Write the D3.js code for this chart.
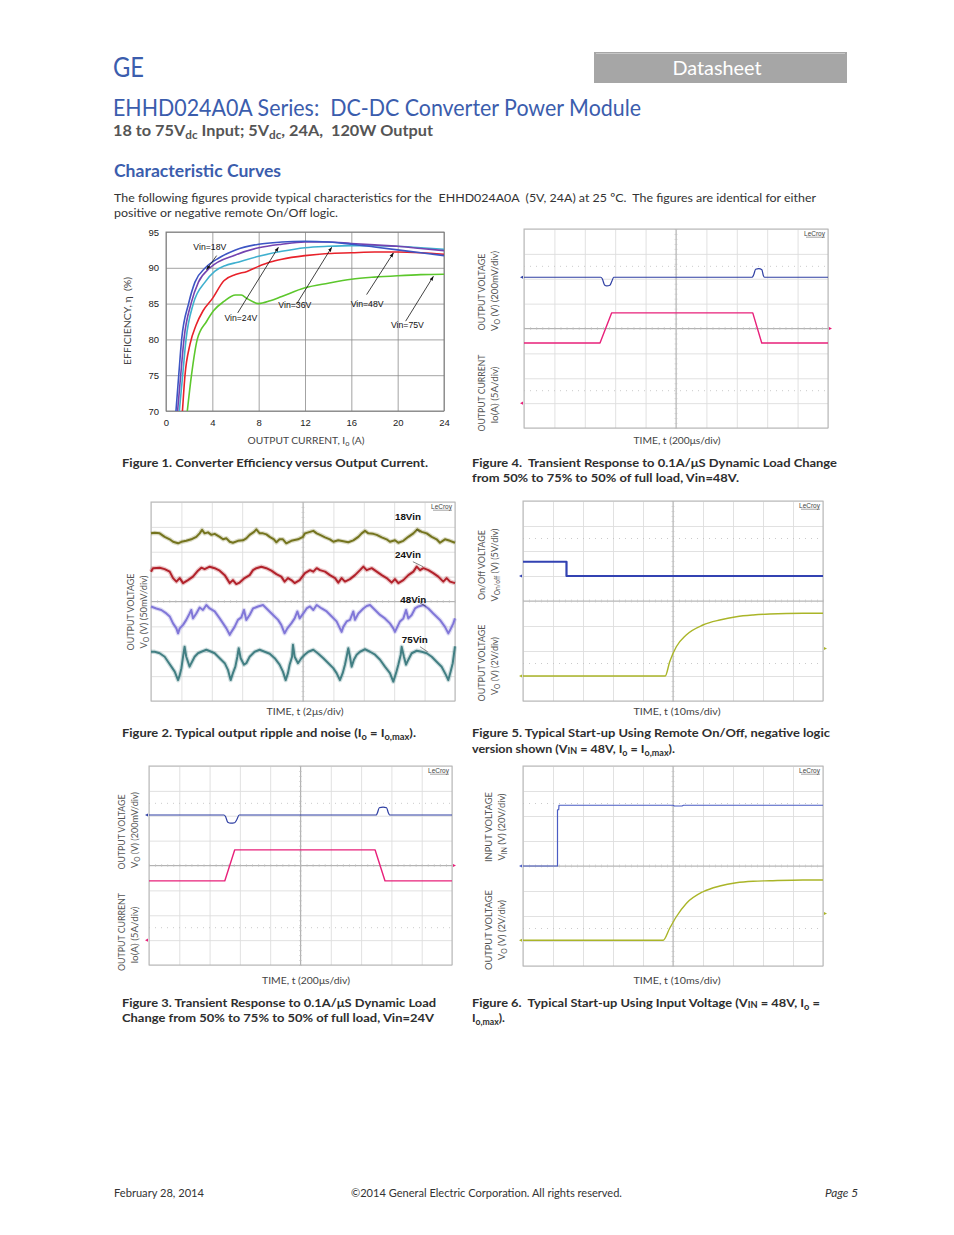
<!DOCTYPE html>
<html><head><meta charset="utf-8">
<script src="https://cdn.jsdelivr.net/npm/d3@7"></script>
<style>body{margin:0;background:#fff} svg{display:block} text{white-space:pre}</style>
</head><body>
<script>
// ================= DATA =================
// Figure 1 : efficiency (%) vs output current (A)
const effTicksX = [0,4,8,12,16,20,24];
const effTicksY = [70,75,80,85,90,95];
const eff18 = [[0.86,70],[1.1,75],[1.35,80],[1.95,85],[2.5,88],[3.4,90],[4.6,91.4],[6,92.5],[8,93.3],[10,93.6],[12,93.7],[14,93.6],[16,93.3],[18,92.9],[20,92.5],[22,92.1],[24,91.7]];
const eff24 = [[1.0,70],[1.27,75],[1.55,80],[2.16,85],[2.8,88],[3.8,90],[6,91.8],[8,92.8],[10,93.3],[12,93.6],[14,93.6],[16,93.4],[18,93.2],[20,93.0],[22,92.7],[24,92.4]];
const eff36 = [[1.15,70],[1.44,75],[1.73,80],[2.36,85],[3.37,88],[4.2,89.5],[5.1,90.3],[6,90.7],[8,91.6],[10,92.3],[12,92.8],[14,93.0],[16,93.1],[18,93.1],[20,93.0],[22,92.8],[24,92.6]];
const eff48 = [[1.42,70],[1.64,75],[2.07,79.3],[2.6,82],[3.2,84],[4,85.7],[5,88.2],[6,89.05],[7,89.5],[8,90.2],[9,90.8],[10,91.2],[12,91.7],[14,92.0],[16,92.1],[18,92.2],[20,92.2],[22,92.1],[24,91.9]];
const eff75 = [[1.84,70],[2.2,75],[2.7,80],[3.5,82.5],[4.1,84],[5,85.3],[6,86.2],[6.5,86.2],[7,85.7],[8,85.0],[9,85.4],[10,86.0],[12,87.2],[14,87.85],[16,88.4],[18,88.7],[20,88.9],[22,89.05],[24,89.1]];
const effSeriesNames = ['Vin=18V','Vin=24V','Vin=36V','Vin=48V','Vin=75V'];
const effLabelPos = [[2.36,92.86],[5.04,83.0],[9.7,84.8],[15.94,84.96],[19.42,82.0]];
const effArrowFrom = [[4.37,91.7],[6.19,83.7],[11.28,84.96],[17.32,86.26],[20.69,82.55]];
const effArrowTo = [[3.51,89.75],[9.7,92.86],[14.3,92.86],[19.63,92.07],[23.08,88.8]];

// Figure 2 : output ripple, time (us) vs mV (50 mV/div, centre = 0)
const ripple18 = [[0,137],[0.24,138],[0.57,137],[0.9,130],[1.23,125],[1.45,120],[1.78,117],[2.0,120],[2.32,122],[2.65,125],[2.98,130],[3.2,137],[3.36,144],[3.53,137],[3.75,139],[3.97,134],[4.19,136],[4.52,130],[4.74,125],[4.96,127],[5.18,120],[5.39,118],[5.72,122],[6.05,123],[6.27,127],[6.49,134],[6.78,140],[6.93,145],[7.15,137],[7.37,137],[7.59,135],[7.81,130],[8.09,125],[8.25,119],[8.46,125],[8.68,125],[8.9,117],[9.23,122],[9.67,125],[10.0,130],[10.13,137],[10.46,140],[10.68,142],[10.9,137],[11.12,134],[11.45,129],[11.77,125],[12.0,120],[12.32,123],[12.65,121],[12.98,119],[13.31,123],[13.64,130],[13.86,137],[14.08,142],[14.3,137],[14.63,136],[14.85,134],[15.18,129],[15.5,125],[15.72,120],[16.05,123],[16.27,118],[16.6,122],[16.93,130],[17.26,137],[17.52,145],[17.81,140],[18.14,137],[18.47,130],[18.79,125],[19.01,118],[19.34,125],[19.67,122],[20.0,118]];
const ripple24 = [[0,60],[0.13,67],[0.57,68],[0.9,65],[1.23,60],[1.45,47],[1.67,40],[1.89,47],[2.11,37],[2.43,43],[2.76,50],[3.09,62],[3.31,68],[3.53,65],[3.86,70],[4.19,67],[4.52,62],[4.85,53],[5.18,37],[5.39,43],[5.61,35],[5.83,38],[6.16,47],[6.49,53],[6.71,63],[6.93,67],[7.26,70],[7.59,67],[7.92,62],[8.25,55],[8.57,50],[8.79,40],[9.01,47],[9.23,43],[9.45,37],[9.78,43],[10.13,57],[10.46,63],[10.68,60],[10.9,67],[11.12,63],[11.45,60],[11.77,53],[12.11,47],[12.32,38],[12.54,47],[12.76,40],[13.09,45],[13.42,53],[13.75,63],[13.97,70],[14.19,63],[14.52,67],[14.85,60],[15.18,53],[15.5,47],[15.83,38],[16.05,45],[16.27,37],[16.6,43],[16.93,53],[17.26,60],[17.48,70],[17.7,63],[17.92,67],[18.25,63],[18.57,57],[18.9,50],[19.23,40],[19.45,47],[19.67,40],[20.0,37]];
const ripple48 = [[0,-10],[0.35,-14],[0.68,-17],[1.01,-24],[1.23,-30],[1.45,-44],[1.67,-54],[1.78,-64],[1.89,-54],[2.11,-47],[2.32,-37],[2.54,-24],[2.65,-17],[2.76,-34],[2.98,-24],[3.2,-12],[3.42,-17],[3.64,-7],[3.86,-14],[4.19,-20],[4.52,-34],[4.74,-44],[4.96,-54],[5.18,-67],[5.29,-61],[5.5,-51],[5.72,-37],[5.94,-32],[6.12,-17],[6.27,-37],[6.49,-27],[6.71,-14],[7.04,-10],[7.37,-7],[7.7,-17],[8.03,-27],[8.36,-37],[8.57,-47],[8.79,-64],[8.97,-54],[9.23,-44],[9.45,-34],[9.63,-20],[9.78,-34],[10.02,-24],[10.24,-14],[10.46,-10],[10.68,-17],[10.9,-7],[11.23,-14],[11.56,-20],[11.89,-30],[12.21,-40],[12.43,-54],[12.54,-61],[12.65,-51],[12.87,-40],[13.09,-37],[13.31,-20],[13.42,-37],[13.64,-24],[13.97,-14],[14.19,-9],[14.41,-7],[14.74,-17],[15.07,-27],[15.39,-34],[15.72,-44],[15.94,-54],[16.05,-61],[16.16,-54],[16.38,-40],[16.6,-34],[16.78,-17],[16.93,-34],[17.15,-27],[17.37,-14],[17.59,-10],[17.92,-7],[18.25,-14],[18.57,-24],[19.01,-37],[19.34,-51],[19.56,-64],[19.67,-58],[19.89,-44],[20.0,-34]];
const ripple75 = [[0,-101],[0.24,-101],[0.57,-104],[0.9,-111],[1.12,-121],[1.34,-131],[1.56,-141],[1.78,-158],[1.89,-148],[2.0,-134],[2.11,-111],[2.21,-91],[2.32,-111],[2.54,-131],[2.65,-124],[2.87,-111],[3.09,-104],[3.31,-101],[3.64,-97],[3.97,-101],[4.19,-104],[4.52,-114],[4.85,-124],[5.07,-138],[5.24,-158],[5.39,-144],[5.55,-131],[5.68,-111],[5.77,-94],[5.9,-114],[6.12,-127],[6.27,-124],[6.49,-111],[6.82,-101],[7.15,-97],[7.48,-101],[7.81,-105],[8.14,-114],[8.46,-127],[8.68,-141],[8.86,-158],[9.01,-144],[9.12,-127],[9.28,-111],[9.34,-87],[9.45,-111],[9.67,-124],[9.89,-114],[10.11,-107],[10.35,-101],[10.68,-97],[11.01,-105],[11.34,-114],[11.67,-124],[11.99,-134],[12.21,-144],[12.43,-158],[12.61,-144],[12.76,-127],[12.87,-111],[12.98,-94],[13.09,-111],[13.2,-131],[13.35,-117],[13.53,-107],[13.75,-101],[14.08,-96],[14.41,-101],[14.74,-107],[15.07,-117],[15.39,-131],[15.72,-144],[15.94,-161],[16.12,-144],[16.27,-127],[16.43,-107],[16.49,-91],[16.64,-111],[16.78,-127],[16.93,-117],[17.15,-104],[17.48,-99],[17.81,-101],[18.14,-104],[18.47,-111],[18.79,-121],[19.12,-131],[19.41,-148],[19.56,-158],[19.71,-141],[19.85,-124],[20.0,-90]];
const rippleNames = ['18Vin','24Vin','48Vin','75Vin'];
const rippleLabelPos = [[16.05,171],[16.05,95],[16.4,5],[16.5,-75]];
const rippleLeaderFrom = [[17.45,145],[17.23,80],[17.7,-3],[17.7,-91]];
const rippleLeaderTo = [[17.7,139],[17.9,70],[18.1,-10],[18.2,-101]];

// Figure 3 : transient, Vin=24V, time (us) vs divisions
const tr24Vo = [[0,2.03],[495,2.03],[505,1.97],[520,1.74],[540,1.70],[565,1.72],[580,1.85],[595,2.03],[1500,2.03],[1508,2.12],[1520,2.32],[1545,2.35],[1568,2.32],[1580,2.12],[1590,2.03],[2000,2.03]];
const tr24Io = [[0,-0.62],[500,-0.62],[566,0.63],[1492,0.63],[1558,-0.62],[2000,-0.62]];
// Figure 4 : transient, Vin=48V
const tr48Vo = [[0,2.06],[505,2.06],[515,2.0],[530,1.75],[545,1.71],[565,1.74],[578,1.9],[590,2.06],[1500,2.06],[1510,2.14],[1524,2.38],[1545,2.41],[1565,2.36],[1574,2.14],[1582,2.06],[2000,2.06]];
const tr48Io = [[0,-0.58],[500,-0.58],[577,0.63],[1505,0.63],[1564,-0.58],[2000,-0.58]];
// Figure 5 : start-up with remote on/off, time (ms) vs divisions
const su5OnOff = [[0,1.57],[14.5,1.57],[14.5,1.0],[100,1.0]];
const su5Vo = [[0,-3.0],[47.4,-3.0],[48.9,-2.43],[51.1,-1.83],[54.4,-1.36],[60,-0.96],[65.6,-0.76],[71.1,-0.63],[76.7,-0.56],[82.2,-0.52],[93.3,-0.49],[100,-0.49]];
// Figure 6 : start-up with input voltage
const su6Vin = [[0,0],[11.5,0],[11.5,2.25],[11.9,2.25],[12.0,2.43],[50,2.43],[50.5,2.40],[53,2.40],[53.5,2.43],[100,2.43]];
const su6Vo = [[0,-2.97],[46.7,-2.97],[48.9,-2.49],[51.1,-2.03],[54.5,-1.49],[60,-1.03],[65.6,-0.8],[71.1,-0.67],[76.7,-0.61],[82.2,-0.59],[93.3,-0.56],[100,-0.56]];

// ================= DRAWING =================
const FONT = 'Lato, "Open Sans", sans-serif';
const ARIAL = '"Liberation Sans", Arial, sans-serif';
const BLUE = '#3b5dad';
const svg = d3.select('body').append('svg').attr('width',954).attr('height',1235);
svg.append('rect').attr('width',954).attr('height',1235).attr('fill','#fff');
const defs = svg.append('defs');
defs.append('marker').attr('id','ah').attr('viewBox','0 0 10 10').attr('refX',9).attr('refY',5)
  .attr('markerWidth',6).attr('markerHeight',6).attr('orient','auto')
  .append('path').attr('d','M0,1.5L10,5L0,8.5Z').attr('fill','#111');

function T(parent, x, y, parts, o = {}) {
  const t = parent.append('text').attr('x', x).attr('y', y)
    .attr('font-family', o.family || FONT).attr('font-size', o.size || 12)
    .attr('fill', o.fill || '#333').attr('font-weight', o.weight || 400)
    .attr('text-anchor', o.anchor || 'start');
  if (o.italic) t.attr('font-style', 'italic');
  if (o.len) t.attr('textLength', o.len).attr('lengthAdjust', 'spacingAndGlyphs');
  if (o.rotate) t.attr('transform', `rotate(${o.rotate},${x},${y})`);
  if (o.baseline) t.attr('dominant-baseline', o.baseline);
  if (typeof parts === 'string') parts = [parts];
  const sh = (o.size || 12) * 0.22;
  let cur = 0;
  parts.forEach(p => {
    const isSub = typeof p !== 'string';
    const target = isSub ? (p.nb ? sh * 0.3 : sh) : 0;
    const ts = t.append('tspan').text(isSub ? p.s : p).attr('dy', target - cur);
    if (isSub) ts.attr('font-size', (o.size || 12) * 0.72);
    cur = target;
  });
  return t;
}

// ---------- header ----------
T(svg, 113, 77, 'GE', {size: 26, fill: BLUE, len: 31});
svg.append('rect').attr('x',594).attr('y',52).attr('width',253).attr('height',31).attr('fill','#a6a6a6');
svg.append('line').attr('x1',596).attr('x2',845).attr('y1',53.5).attr('y2',53.5).attr('stroke','#cfcfcf').attr('stroke-width',0.8);
T(svg, 717, 75, 'Datasheet', {size: 20, fill: '#fff', anchor: 'middle', len: 89});
T(svg, 113, 116, 'EHHD024A0A Series:  DC-DC Converter Power Module', {size: 23, fill: BLUE, len: 528});
T(svg, 113, 136, ['18 to 75V', {s:'dc'}, ' Input; 5V', {s:'dc'}, ', 24A,  120W Output'], {size: 15.5, fill: '#555', weight: 700, len: 320});
T(svg, 114, 177, 'Characteristic Curves', {size: 16.5, fill: BLUE, weight: 700, len: 167});
T(svg, 114, 202, 'The following figures provide typical characteristics for the  EHHD024A0A  (5V, 24A) at 25 ºC.  The figures are identical for either', {size: 12, fill: '#333', len: 702});
T(svg, 114, 217, 'positive or negative remote On/Off logic.', {size: 12, fill: '#333', len: 224});

// ---------- Figure 1 ----------
(function(){
  const g = svg.append('g');
  const x = d3.scaleLinear().domain([0,24]).range([166,444]);
  const y = d3.scaleLinear().domain([70,95]).range([411,232]);
  g.append('g').attr('transform','translate(0,411)')
    .call(d3.axisBottom(x).tickValues(effTicksX).tickSize(-179).tickPadding(8))
    .call(s => { s.select('.domain').remove(); s.selectAll('line').attr('stroke','#8c8c8c').attr('stroke-width',0.8);
      s.selectAll('text').attr('font-family',ARIAL).attr('font-size',9.5).attr('fill','#222'); });
  g.append('g').attr('transform','translate(166,0)')
    .call(d3.axisLeft(y).tickValues(effTicksY).tickSize(-278).tickPadding(7))
    .call(s => { s.select('.domain').remove(); s.selectAll('line').attr('stroke','#8c8c8c').attr('stroke-width',0.8);
      s.selectAll('text').attr('font-family',ARIAL).attr('font-size',9.5).attr('fill','#222'); });
  g.append('rect').attr('x',166).attr('y',232).attr('width',278).attr('height',179)
    .attr('fill','none').attr('stroke','#7a7a7a').attr('stroke-width',0.9);
  const cols = ['#3d55c4','#7443b0','#3fb0cf','#e8212a','#5cc72c'];
  const series = [eff18, eff24, eff36, eff48, eff75];
  const ln = d3.line().x(d => x(d[0])).y(d => y(d[1])).curve(d3.curveMonotoneX);
  [4,3,2,1,0].forEach(i => g.append('path').attr('d', ln(series[i])).attr('fill','none')
    .attr('stroke', cols[i]).attr('stroke-width', 1.6));
  effSeriesNames.forEach((n,i) => {
    T(g, x(effLabelPos[i][0]), y(effLabelPos[i][1]), n, {family: ARIAL, size: 8.7, fill: '#111', baseline: 'central'});
    g.append('line').attr('x1', x(effArrowFrom[i][0])).attr('y1', y(effArrowFrom[i][1]))
      .attr('x2', x(effArrowTo[i][0])).attr('y2', y(effArrowTo[i][1]))
      .attr('stroke','#111').attr('stroke-width',0.8).attr('marker-end','url(#ah)');
  });
  T(g, 306, 444, 'OUTPUT CURRENT, I', {size: 9.5, fill: '#444', anchor: 'middle'}).call(t => {
    t.append('tspan').text('o').attr('font-size', 7).attr('dy', 1.5);
    t.append('tspan').text(' (A)').attr('dy', -1.5);
    t.attr('textLength', 117).attr('lengthAdjust','spacingAndGlyphs');
  });
  T(g, 131, 321, 'EFFICIENCY, η  (%)', {size: 9.5, fill: '#444', anchor: 'middle', rotate: -90, len: 88});
})();

// ---------- scope helper ----------
function scope(box, xDom, yDom, dotted) {
  const g = svg.append('g');
  const x = d3.scaleLinear().domain(xDom).range([box.x, box.x + box.w]);
  const y = d3.scaleLinear().domain(yDom).range([box.y + box.h, box.y]);
  const xv = d3.range(11).map(i => xDom[0] + i * (xDom[1] - xDom[0]) / 10);
  const yv = d3.range(9).map(i => yDom[0] + i * (yDom[1] - yDom[0]) / 8);
  const xmid = (xDom[0] + xDom[1]) / 2, ymid = (yDom[0] + yDom[1]) / 2;
  g.append('g').attr('transform', `translate(0,${box.y + box.h})`)
    .call(d3.axisBottom(x).tickValues(xv).tickSize(-box.h).tickFormat(''))
    .call(s => { s.select('.domain').remove(); s.selectAll('line').attr('stroke', '#dedede').attr('stroke-width', 0.9); });
  g.append('g').attr('transform', `translate(${box.x},0)`)
    .call(d3.axisLeft(y).tickValues(yv).tickSize(-box.w).tickFormat(''))
    .call(s => { s.select('.domain').remove(); s.selectAll('line').attr('stroke', '#dedede').attr('stroke-width', 0.9); });
  (dotted || []).forEach(v => g.append('line').attr('x1', box.x).attr('x2', box.x + box.w)
    .attr('y1', y(v)).attr('y2', y(v)).attr('stroke', '#c4c4c4').attr('stroke-width', 0.9).attr('stroke-dasharray', '1,5'));
  // centre lines with minor ticks
  g.append('line').attr('x1', box.x).attr('x2', box.x + box.w).attr('y1', y(ymid)).attr('y2', y(ymid)).attr('stroke', '#acacac').attr('stroke-width', 0.9);
  g.append('line').attr('x1', x(xmid)).attr('x2', x(xmid)).attr('y1', box.y).attr('y2', box.y + box.h).attr('stroke', '#acacac').attr('stroke-width', 0.9);
  const xm = d3.range(51).map(i => xDom[0] + i * (xDom[1] - xDom[0]) / 50);
  const ym = d3.range(41).map(i => yDom[0] + i * (yDom[1] - yDom[0]) / 40);
  [d3.axisBottom, d3.axisTop].forEach(a => g.append('g').attr('transform', `translate(0,${y(ymid)})`)
    .call(a(x).tickValues(xm).tickSize(1.5).tickFormat(''))
    .call(s => { s.select('.domain').remove(); s.selectAll('line').attr('stroke', '#c2c2c2').attr('stroke-width', 0.6); }));
  [d3.axisLeft, d3.axisRight].forEach(a => g.append('g').attr('transform', `translate(${x(xmid)},0)`)
    .call(a(y).tickValues(ym).tickSize(1.5).tickFormat(''))
    .call(s => { s.select('.domain').remove(); s.selectAll('line').attr('stroke', '#c2c2c2').attr('stroke-width', 0.6); }));
  g.append('rect').attr('x', box.x).attr('y', box.y).attr('width', box.w).attr('height', box.h)
    .attr('fill', 'none').attr('stroke', '#b5b5b5').attr('stroke-width', 1);
  // LeCroy logo text
  T(g, box.x + box.w - 3, box.y + 7, 'LeCroy', {family: ARIAL, size: 6.5, fill: '#444', anchor: 'end'});
  g.append('line').attr('x1', box.x + box.w - 22).attr('x2', box.x + box.w - 3).attr('y1', box.y + 8.2).attr('y2', box.y + 8.2)
    .attr('stroke', '#444').attr('stroke-width', 0.5);
  const trace = (data, col, w, curve) => g.append('path')
    .attr('d', d3.line().x(d => x(d[0])).y(d => y(d[1])).curve(curve || d3.curveLinear)(data))
    .attr('fill', 'none').attr('stroke', col).attr('stroke-width', w).attr('stroke-linejoin', 'round');
  return {g, x, y, trace, box};
}
function mark(s, side, v, col) {
  const xx = side === 'L' ? s.box.x - 2 : s.box.x + s.box.w + 2;
  const d = side === 'L' ? -1 : 1;
  s.g.append('path').attr('d', `M${xx - d * 1},${s.y(v) - 1.6}L${xx + d * 2},${s.y(v)}L${xx - d * 1},${s.y(v) + 1.6}Z`).attr('fill', col);
}
function vlabel(x, cy, parts, len) {
  T(svg, x, cy, parts, {size: 9.3, fill: '#555', anchor: 'middle', rotate: -90, len});
}

// ---------- Figure 2 ----------
(function(){
  const s = scope({x:151, y:502, w:304, h:199}, [0,20], [-200,200], []);
  const cols = ['#74741e','#b2222b','#8177d8','#427f83'];
  [ripple18, ripple24, ripple48, ripple75].forEach((d,i) => {
    s.trace(d, cols[i], 4.4).attr('opacity', 0.25);
    s.trace(d, cols[i], 2.0);
  });
  rippleNames.forEach((n,i) => {
    T(s.g, s.x(rippleLabelPos[i][0]), s.y(rippleLabelPos[i][1]), n, {family: ARIAL, size: 9.8, weight: 700, fill: '#111', baseline: 'central'});
    s.g.append('line').attr('x1', s.x(rippleLeaderFrom[i][0])).attr('y1', s.y(rippleLeaderFrom[i][1]))
      .attr('x2', s.x(rippleLeaderTo[i][0])).attr('y2', s.y(rippleLeaderTo[i][1])).attr('stroke','#333').attr('stroke-width',0.6);
  });
  vlabel(133.5, 612, 'OUTPUT VOLTAGE', 77);
  vlabel(146.5, 612, ['V', {s:'O'}, ' (V) (50mV/div)'], 73);
  T(svg, 305, 715, 'TIME, t (2μs/div)', {size: 9.5, fill: '#444', anchor: 'middle', len: 77});
})();

// ---------- Figure 3 ----------
(function(){
  const s = scope({x:149, y:766, w:303, h:199}, [0,2000], [-4,4], [2.5,-2.5]);
  s.trace(tr24Io, '#e8207a', 1.4);
  s.trace(tr24Vo, '#2f3fa3', 1.2, d3.curveMonotoneX);
  mark(s, 'L', 2.03, '#2f3fa3'); mark(s, 'R', 0, '#e8207a'); mark(s, 'L', -3, '#e8207a');
  vlabel(124.5, 832, 'OUTPUT VOLTAGE', 75);
  vlabel(137.5, 830, ['V', {s:'O'}, ' (V) (200mV/div)'], 76);
  vlabel(124.5, 932, 'OUTPUT CURRENT', 78);
  vlabel(137.5, 935, 'Io(A) (5A/div)', 57);
  T(svg, 306, 984, 'TIME, t (200μs/div)', {size: 9.5, fill: '#444', anchor: 'middle', len: 88});
})();

// ---------- Figure 4 ----------
(function(){
  const s = scope({x:524, y:229, w:304, h:199}, [0,2000], [-4,4], [2.5,-2.5]);
  s.trace(tr48Io, '#e8207a', 1.4);
  s.trace(tr48Vo, '#2f3fa3', 1.2, d3.curveMonotoneX);
  mark(s, 'L', 2.06, '#2f3fa3'); mark(s, 'R', 0, '#e8207a'); mark(s, 'L', -3, '#e8207a');
  vlabel(484.5, 292, 'OUTPUT VOLTAGE', 77);
  vlabel(497.5, 291, ['V', {s:'O'}, ' (V) (200mV/div)'], 80);
  vlabel(484.5, 393, 'OUTPUT CURRENT', 77);
  vlabel(497.5, 395, 'Io(A) (5A/div)', 57);
  T(svg, 677, 444, 'TIME, t (200μs/div)', {size: 9.5, fill: '#444', anchor: 'middle', len: 87});
})();

// ---------- Figure 5 ----------
(function(){
  const s = scope({x:523, y:501, w:300, h:200}, [0,100], [-4,4], [2.5,-2.5]);
  s.trace(su5Vo, '#aab528', 1.4, d3.curveMonotoneX);
  s.trace(su5OnOff, '#3242b2', 2.2);
  mark(s, 'L', 1.0, '#3242b2'); mark(s, 'L', -3.0, '#aab528'); mark(s, 'R', -1.9, '#aab528');
  vlabel(484.5, 565, 'On/Off VOLTAGE', 70);
  vlabel(497.5, 565, ['V', {s:'On/off'}, ' (V) (5V/div)'], 73);
  vlabel(484.5, 663, 'OUTPUT VOLTAGE', 77);
  vlabel(497.5, 666, ['V', {s:'O'}, ' (V) (2V/div)'], 58);
  T(svg, 677, 715, 'TIME, t (10ms/div)', {size: 9.5, fill: '#444', anchor: 'middle', len: 87});
})();

// ---------- Figure 6 ----------
(function(){
  const s = scope({x:523, y:766, w:300, h:200}, [0,100], [-4,4], [2.5,-2.5]);
  s.trace(su6Vo, '#aab528', 1.4, d3.curveMonotoneX);
  s.trace(su6Vin, '#4a5cc4', 1.2);
  mark(s, 'L', 0, '#4a5cc4'); mark(s, 'L', -2.97, '#aab528'); mark(s, 'R', -1.9, '#aab528');
  vlabel(492, 827, 'INPUT VOLTAGE', 70);
  vlabel(505, 827, ['V', {s:'IN'}, ' (V) (20V/div)'], 67);
  vlabel(492, 930, 'OUTPUT VOLTAGE', 80);
  vlabel(505, 930, ['V', {s:'O'}, ' (V) (2V/div)'], 60);
  T(svg, 677, 984, 'TIME, t (10ms/div)', {size: 9.5, fill: '#444', anchor: 'middle', len: 87});
})();

// ---------- captions ----------
const capO = (len) => ({size: 12, weight: 700, fill: '#2e2e2e', len});
T(svg, 122, 467, 'Figure 1. Converter Efficiency versus Output Current.', capO(306));
T(svg, 472, 467, 'Figure 4.  Transient Response to 0.1A/μS Dynamic Load Change', capO(365));
T(svg, 472, 482, 'from 50% to 75% to 50% of full load, Vin=48V.', capO(267));
T(svg, 122, 737, ['Figure 2. Typical output ripple and noise (I', {s:'o'}, ' = I', {s:'o,max'}, ').'], capO(294));
T(svg, 472, 737, 'Figure 5. Typical Start-up Using Remote On/Off, negative logic', capO(358));
T(svg, 472, 753, ['version shown (V', {s:'IN', nb:1}, ' = 48V, I', {s:'o'}, ' = I', {s:'o,max'}, ').'], capO(203));
T(svg, 122, 1007, 'Figure 3. Transient Response to 0.1A/μS Dynamic Load', capO(314));
T(svg, 122, 1022, 'Change from 50% to 75% to 50% of full load, Vin=24V', capO(312));
T(svg, 472, 1007, ['Figure 6.  Typical Start-up Using Input Voltage (V', {s:'IN', nb:1}, ' = 48V, I', {s:'o'}, ' ='], capO(348));
T(svg, 472, 1022, ['I', {s:'o,max'}, ').'], capO(33));

// ---------- footer ----------
T(svg, 114, 1197, 'February 28, 2014', {size: 10.5, fill: '#333', len: 90});
T(svg, 351, 1197, '©2014 General Electric Corporation. All rights reserved.', {size: 10.5, fill: '#333', len: 271});
T(svg, 858, 1197, 'Page 5', {size: 10.5, fill: '#333', anchor: 'end', italic: true, len: 33});
</script>
</body></html>
